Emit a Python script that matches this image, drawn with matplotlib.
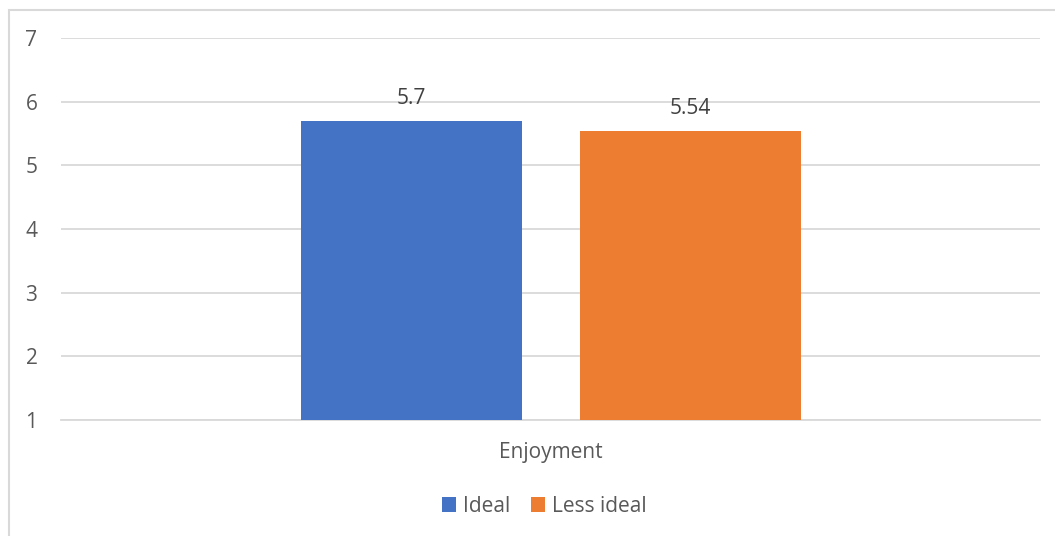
import matplotlib.pyplot as plt
from matplotlib.patches import Rectangle

# Data
category = ['Enjoyment']
series = ['Ideal', 'Less ideal']
values = [5.7, 5.54]
colors = ['#4472c4', '#ed7d31']

plt.rcParams['font.family'] = ['Open Sans', 'DejaVu Sans']

fig = plt.figure(figsize=(10.55, 5.36), dpi=100)
ax = fig.add_axes([61 / 1055, 1 - 420 / 536, 979 / 1055, 382 / 536])

# chart border (cropped on right/bottom)
fig.patches.append(Rectangle((8.5 / 1055, -0.05), 1.1, 1 - 9.5 / 536 + 0.05,
                             transform=fig.transFigure, fill=False,
                             edgecolor='#d9d9d9', linewidth=1.5))

fs = 15
width = 0.2257
offsets = [-0.142, 0.143]
for i, (name, v) in enumerate(zip(series, values)):
    ax.bar(offsets[i], v - 1, bottom=1, width=width, color=colors[i], label=name, zorder=3)
    ax.text(offsets[i], v + 0.19, f'{v:g}', ha='center', va='bottom',
            fontsize=fs, color='#404040')

ax.set_xlim(-0.5, 0.5)
ax.set_ylim(1, 7)
ax.set_yticks(range(1, 8))
ax.set_xticks([0])
ax.set_xticklabels(category)
ax.tick_params(axis='both', length=0, labelsize=fs, labelcolor='#595959')
ax.tick_params(axis='y', pad=17)
ax.tick_params(axis='x', pad=15.5)
ax.grid(axis='y', color='#d9d9d9', linewidth=1.3, zorder=0)
for s in ['top', 'right', 'left']:
    ax.spines[s].set_visible(False)
ax.spines['bottom'].set_color('#d9d9d9')
ax.spines['bottom'].set_linewidth(1.3)

fig.legend(loc='center', bbox_to_anchor=(544 / 1055, 1 - 506 / 536), ncol=2,
           frameon=False, fontsize=fs, labelcolor='#595959',
           handlelength=0.7, handleheight=0.7, handletextpad=0.3, columnspacing=1.0)

fig.savefig('out.png', dpi=100)
